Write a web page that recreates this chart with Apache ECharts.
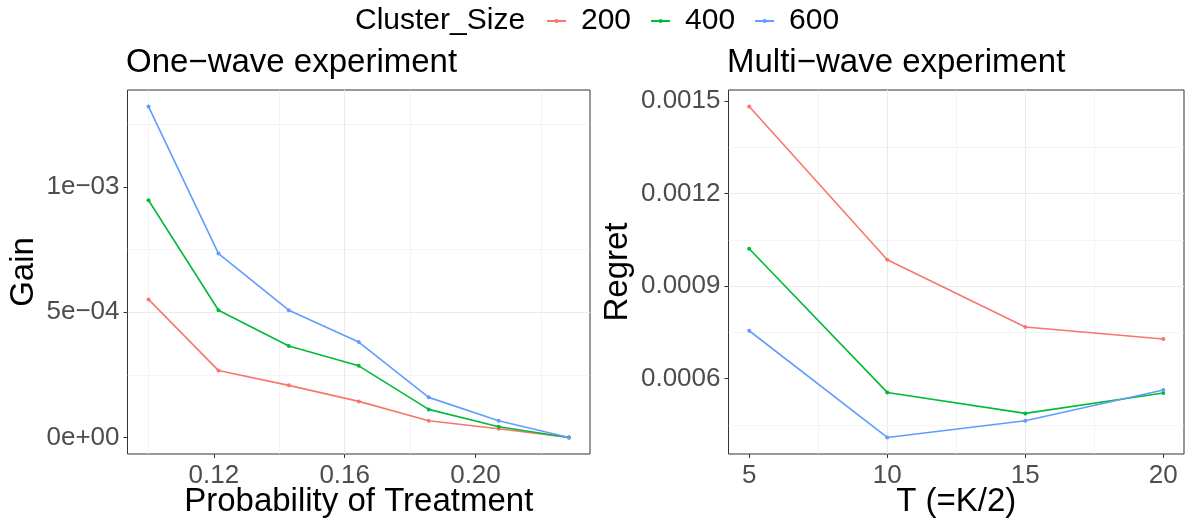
<!DOCTYPE html>
<html>
<head>
<meta charset="utf-8">
<script src="https://cdn.jsdelivr.net/npm/echarts@6/dist/echarts.min.js"></script>
<style>
html,body{margin:0;padding:0;background:#fff;}
#chart{width:1185px;height:521px;}
</style>
</head>
<body>
<div id="chart"></div>
<script>
// ---- data ----
const clusterSizes = ['200', '400', '600'];
const seriesColors = ['#F8766D', '#00BA38', '#619CFF'];

const probTreatment = [0.1, 0.1214, 0.1429, 0.1643, 0.1857, 0.2071, 0.2286];
const gain200 = [5.51e-4, 2.67e-4, 2.08e-4, 1.44e-4, 6.7e-5, 3.5e-5, 0];
const gain400 = [9.47e-4, 5.08e-4, 3.65e-4, 2.86e-4, 1.12e-4, 4.3e-5, 0];
const gain600 = [1.321e-3, 7.34e-4, 5.08e-4, 3.81e-4, 1.60e-4, 6.7e-5, 0];

const waveT = [5, 10, 15, 20];
const regret200 = [1.482e-3, 9.855e-4, 7.67e-4, 7.28e-4];
const regret400 = [1.021e-3, 5.55e-4, 4.87e-4, 5.53e-4];
const regret600 = [7.55e-4, 4.09e-4, 4.63e-4, 5.63e-4];

const probTicks = [0.12, 0.16, 0.20];
const probTickLabels = ['0.12', '0.16', '0.20'];
const gainTicks = [0, 5e-4, 1e-3];
const gainTickLabels = ['0e+00', '5e\u221204', '1e\u221203'];
const tTicks = [5, 10, 15, 20];
const tTickLabels = ['5', '10', '15', '20'];
const regretTicks = [0.0006, 0.0009, 0.0012, 0.0015];
const regretTickLabels = ['0.0006', '0.0009', '0.0012', '0.0015'];

// ---- helpers ----
const FONT = '"Liberation Sans", Arial, Helvetica, sans-serif';
function expand(arrs) {
  const all = [].concat(...arrs);
  const lo = Math.min(...all), hi = Math.max(...all);
  const r = hi - lo;
  return [lo - 0.05 * r, hi + 0.05 * r];
}
function step(t) { return +(t[1] - t[0]).toPrecision(10); }
function labelFor(ticks, labels) {
  return function (v) {
    let best = 0, bd = Infinity;
    ticks.forEach((t, i) => { const d = Math.abs(t - v); if (d < bd) { bd = d; best = i; } });
    return labels[best];
  };
}
function makeAxis(gridIndex, ext, ticks, labels, name, nameGap, isY) {
  const iv = step(ticks);
  return {
    type: 'value', gridIndex: gridIndex,
    position: isY ? 'left' : 'bottom',
    min: ext[0], max: ext[1],
    minInterval: iv, maxInterval: iv,
    name: name, nameLocation: 'middle', nameGap: nameGap, nameMoveOverlap: false,
    nameTextStyle: { fontSize: 33, color: '#000', fontFamily: FONT },
    axisLine: { show: false, onZero: false },
    axisTick: { show: true, length: 4, lineStyle: { color: '#333333', width: 1 }, customValues: ticks },
    axisLabel: { show: true, margin: isY ? 8 : 9, fontSize: 26, color: '#4D4D4D', fontFamily: FONT,
                 customValues: ticks, formatter: labelFor(ticks, labels) },
    splitLine: { show: true, showMinLine: false, showMaxLine: false, lineStyle: { color: '#EBEBEB', width: 1.1 } },
    minorTick: { show: false, splitNumber: 2 },
    minorSplitLine: { show: true, lineStyle: { color: '#EBEBEB', width: 0.55 } }
  };
}

const gainSeries = [gain200, gain400, gain600];
const regretSeries = [regret200, regret400, regret600];

const series = [];
clusterSizes.forEach((name, i) => {
  series.push({
    name: name, type: 'line', xAxisIndex: 0, yAxisIndex: 0,
    data: probTreatment.map((x, k) => [x, gainSeries[i][k]]),
    symbol: 'circle', symbolSize: 4, showSymbol: true,
    lineStyle: { color: seriesColors[i], width: 1.6 },
    itemStyle: { color: seriesColors[i] },
    emphasis: { disabled: true }, z: 3
  });
  series.push({
    name: name, type: 'line', xAxisIndex: 1, yAxisIndex: 1,
    data: waveT.map((x, k) => [x, regretSeries[i][k]]),
    symbol: 'circle', symbolSize: 4, showSymbol: true,
    lineStyle: { color: seriesColors[i], width: 1.6 },
    itemStyle: { color: seriesColors[i] },
    emphasis: { disabled: true }, z: 3
  });
});

const chart = echarts.init(document.getElementById('chart'), null, { renderer: 'canvas' });
chart.setOption({
  animation: false,
  backgroundColor: '#ffffff',
  color: seriesColors,
  title: [
    { text: 'Cluster_Size', left: 355, top: 6, padding: 0,
      textStyle: { fontSize: 30, fontWeight: 'normal', color: '#000', fontFamily: FONT } },
    { text: 'One\u2212wave experiment', left: 126, top: 46, padding: 0,
      textStyle: { fontSize: 33, fontWeight: 'normal', color: '#000', fontFamily: FONT } },
    { text: 'Multi\u2212wave experiment', left: 727, top: 46, padding: 0,
      textStyle: { fontSize: 33, fontWeight: 'normal', color: '#000', fontFamily: FONT } }
  ],
  legend: {
    data: clusterSizes,
    left: 546, top: 6, padding: 0,
    itemWidth: 19, itemHeight: 5, itemGap: 19,
    textStyle: { fontSize: 30, color: '#000', fontFamily: FONT, padding: [0, 0, 0, 10] },
    selectedMode: false
  },
  grid: [
    { left: 127.5, right: 595, top: 90, bottom: 67, show: true, borderColor: '#333333', borderWidth: 1,
      containLabel: false, outerBoundsMode: 'none' },
    { left: 728.5, right: 1, top: 90, bottom: 67, show: true, borderColor: '#333333', borderWidth: 1,
      containLabel: false, outerBoundsMode: 'none' }
  ],
  xAxis: [
    makeAxis(0, expand([probTreatment]), probTicks, probTickLabels, 'Probability of Treatment', 31, false),
    makeAxis(1, expand([waveT]), tTicks, tTickLabels, 'T (=K/2)', 31, false)
  ],
  yAxis: [
    makeAxis(0, expand(gainSeries), gainTicks, gainTickLabels, 'Gain', 87, true),
    makeAxis(1, expand(regretSeries), regretTicks, regretTickLabels, 'Regret', 94, true)
  ],
  series: series
});
</script>
</body>
</html>
